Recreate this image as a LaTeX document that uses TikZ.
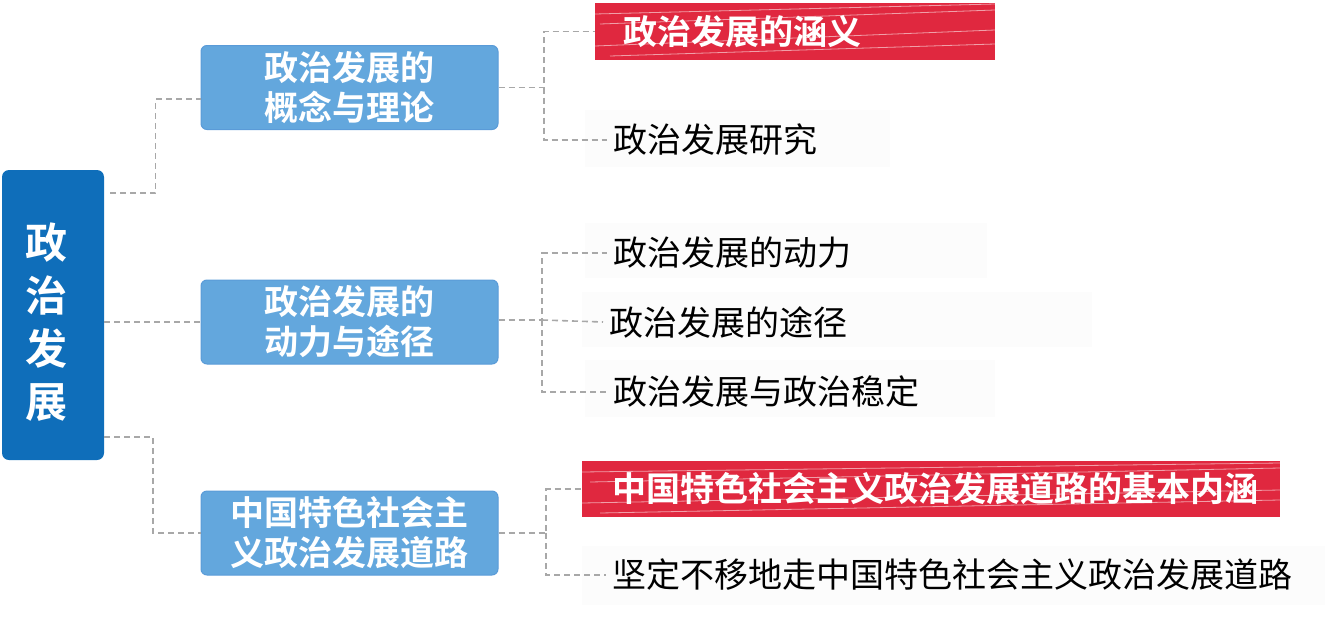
\documentclass[tikz,border=0pt]{standalone}
\usepackage{fontspec}
\setmainfont{Noto Sans CJK SC}
\newfontfamily\cjkb{Noto Sans CJK SC Bold}
\newfontfamily\cjkr{Noto Sans CJK SC}
\usetikzlibrary{calc}
\definecolor{rootblue}{HTML}{0F6EBA}
\definecolor{lblue}{HTML}{63A7DD}
\definecolor{lblueedge}{HTML}{5A9BD8}
\definecolor{hlred}{HTML}{E0283F}
\definecolor{conngray}{HTML}{A8A8A8}
\definecolor{faint}{HTML}{FCFCFC}
\tikzset{
  conn/.style={draw=conngray, line width=1.6pt, dash pattern=on 6pt off 4pt},
  rootbox/.style={fill=rootblue, rounded corners=7pt, minimum width=102pt, minimum height=290pt, inner sep=0pt},
  rootlabel/.style={text=white, align=center, font=\cjkb\fontsize{42}{53}\selectfont, inner sep=0pt},
  lvlbox/.style={fill=lblue, draw=lblueedge, line width=1pt, rounded corners=6pt, minimum width=297pt, minimum height=84pt, inner sep=0pt, text=white, align=center, font=\cjkb\fontsize{34}{40}\selectfont},
  hlbox/.style={fill=hlred, inner sep=0pt, text=white, font=\cjkb\fontsize{34}{40}\selectfont},
  leaf/.style={anchor=west, inner xsep=6pt, inner ysep=0pt, text=black, font=\cjkr\fontsize{34}{40}\selectfont},
  bgbox/.style={fill=faint},
  streak/.style={draw=white, line width=0.8pt, opacity=0.55}
}
\begin{document}
\begin{tikzpicture}[x=1pt,y=-1pt]
\useasboundingbox (0,0) rectangle (1325,616);
% faint backgrounds of leaf texts
\fill[bgbox] (585,110) rectangle (890,167);
\fill[bgbox] (585,223) rectangle (987,278);
\fill[bgbox] (582,292) rectangle (1092,347);
\fill[bgbox] (585,360) rectangle (995,417);
\fill[bgbox] (582,546) rectangle (1325,605);
% root
\node[rootbox] (root) at (53,315) {};
\node[rootlabel] (rootlbl) at (46,322) {政\\治\\发\\展};
% level 1
\node[lvlbox] (b1) at (349.5,87.5) {政治发展的\\概念与理论};
\node[lvlbox] (b2) at (349.5,322) {政治发展的\\动力与途径};
\node[lvlbox] (b3) at (349.5,533) {中国特色社会主\\义政治发展道路};
% highlighted leaves
\node[hlbox, minimum height=57pt] (h1) at (795,31.5) {\makebox[400pt][l]{\hspace{28pt}政治发展的涵义}};
\node[hlbox, minimum height=56pt] (h3) at (931,489) {\makebox[698pt][l]{\hspace{30pt}中国特色社会主义政治发展道路的基本内涵}};
% brush streaks
\begin{scope}
\clip (h1.south west) rectangle (h1.north east);
\draw[streak] (595,14) -- (995,4);
\draw[streak] (600,24) -- (995,10);
\draw[streak] (595,46) -- (995,30);
\draw[streak] (610,56) -- (995,44);
\end{scope}
\begin{scope}
\clip (h3.south west) rectangle (h3.north east);
\draw[streak] (582,472) -- (1280,463);
\draw[streak] (590,482) -- (1280,468);
\draw[streak] (582,503) -- (1280,490);
\draw[streak] (600,513) -- (1280,500);
\end{scope}
% plain leaves
\node[leaf] (t12) at (607,140) {政治发展研究};
\node[leaf] (t21) at (607,253) {政治发展的动力};
\node[leaf] (t22) at (603,322) {政治发展的途径};
\node[leaf] (t23) at (607,392) {政治发展与政治稳定};
\node[leaf] (t32) at (606,575) {坚定不移地走中国特色社会主义政治发展道路};
% junction coordinates
\coordinate (r1) at (110,193);
\coordinate (k1) at (155.5,99);
\coordinate (k3) at (153,437);
\coordinate (j1) at (544,87.5);
\coordinate (j2) at (542,320);
\coordinate (j3) at (546,533);
% connectors from root
\draw[conn] (r1) -| (k1) -- (k1 -| b1.west);
\draw[conn] (root.east |- b2.west) -- (b2.west);
\draw[conn] (root.east |- k3) -- (k3) |- (b3.west);
% connectors from level 1
\draw[conn] (b1.east) -- (j1) |- (h1.west);
\draw[conn] (j1) |- (t12.west);
\draw[conn] (b2.east |- j2) -- (j2) |- (t21.west);
\draw[conn] (j2) -- (t22.west);
\draw[conn] (j2) |- (t23.west);
\draw[conn] (b3.east) -- (j3) |- (h3.west);
\draw[conn] (j3) |- (t32.west);
\end{tikzpicture}
\end{document}
